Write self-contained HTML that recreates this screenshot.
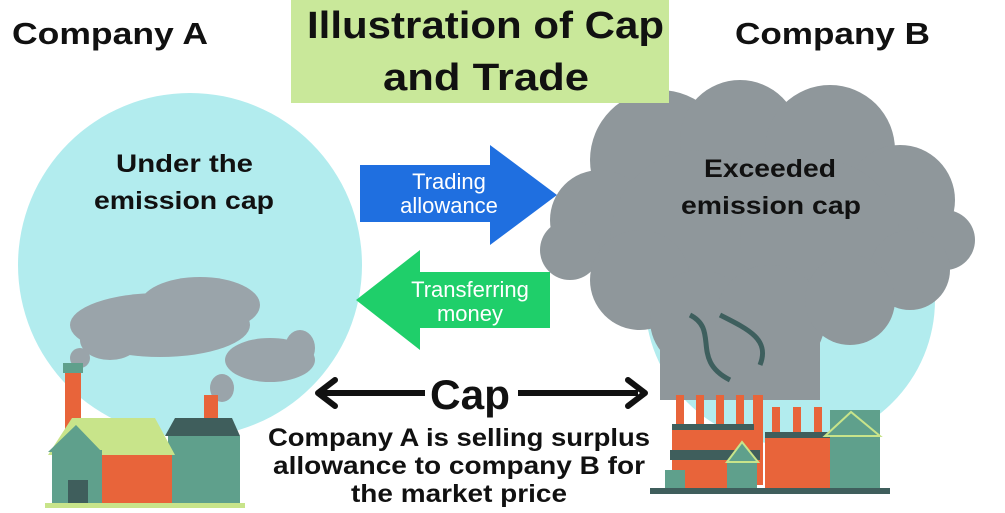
<!DOCTYPE html>
<html><head><style>
body{margin:0;background:#fff;}
svg text{font-family:"Liberation Sans",sans-serif;font-weight:bold;}
</style></head><body>
<svg width="1005" height="508" viewBox="0 0 1005 508" xmlns="http://www.w3.org/2000/svg">
<circle cx="190" cy="265" r="172" fill="#b2ecee"/>
<circle cx="790" cy="300" r="145" fill="#b2ecee"/>
<g fill="#8f979b">
<circle cx="660" cy="160" r="70"/>
<circle cx="740" cy="140" r="60"/>
<circle cx="830" cy="150" r="65"/>
<circle cx="900" cy="200" r="55"/>
<circle cx="945" cy="240" r="30"/>
<circle cx="600" cy="220" r="50"/>
<circle cx="570" cy="250" r="30"/>
<circle cx="700" cy="240" r="90"/>
<circle cx="820" cy="240" r="80"/>
<circle cx="910" cy="270" r="40"/>
<circle cx="640" cy="280" r="50"/>
<circle cx="700" cy="320" r="50"/>
<circle cx="770" cy="320" r="55"/>
<circle cx="850" cy="300" r="45"/>
<rect x="660" y="330" width="160" height="70"/>
</g>
<path d="M690 315 C720 330 690 360 730 380 M720 315 C750 330 770 340 760 365" stroke="#3e5f5e" stroke-width="5" fill="none"/>
<g fill="#9aa4aa">
<ellipse cx="160" cy="325" rx="90" ry="32"/>
<ellipse cx="200" cy="305" rx="60" ry="28"/>
<ellipse cx="110" cy="340" rx="30" ry="20"/>
<ellipse cx="80" cy="358" rx="10" ry="10"/>
<ellipse cx="270" cy="360" rx="45" ry="22"/>
<ellipse cx="300" cy="348" rx="15" ry="18"/>
<ellipse cx="222" cy="388" rx="12" ry="14"/>
</g>
<rect x="63" y="363" width="20" height="10" fill="#5fa08c"/>
<rect x="65" y="373" width="16" height="75" fill="#e8643a"/>
<rect x="204" y="395" width="14" height="45" fill="#e8643a"/>
<rect x="168" y="436" width="72" height="70" fill="#5fa08c"/>
<polygon points="165,436 240,436 232,418 175,418" fill="#3f5e5c"/>
<polygon points="72,418 155,418 175,455 48,455" fill="#c8e48a"/>
<rect x="52" y="450" width="50" height="55" fill="#5fa08c"/>
<polygon points="48,452 76,425 102,452" fill="#5fa08c"/>
<rect x="102" y="455" width="70" height="51" fill="#e8643a"/>
<rect x="68" y="480" width="20" height="26" fill="#3f5e5c"/>
<rect x="45" y="503" width="200" height="5" fill="#c8e48a"/>
<g fill="#e8643a">
<rect x="676" y="395" width="8" height="30"/><rect x="696" y="395" width="8" height="30"/>
<rect x="716" y="395" width="8" height="30"/><rect x="736" y="395" width="8" height="30"/>
<rect x="772" y="407" width="8" height="25"/><rect x="793" y="407" width="8" height="25"/><rect x="814" y="407" width="8" height="25"/>
<rect x="753" y="395" width="10" height="90"/>
<rect x="672" y="428" width="82" height="60"/>
<rect x="765" y="432" width="70" height="56"/>
</g>
<rect x="672" y="424" width="82" height="6" fill="#3f5e5c"/>
<rect x="765" y="432" width="70" height="6" fill="#3f5e5c"/>
<rect x="670" y="450" width="90" height="10" fill="#3f5e5c"/>
<rect x="830" y="410" width="50" height="80" fill="#5fa08c"/>
<polygon points="825,436 851,412 880,436" fill="#5fa08c" stroke="#c8e48a" stroke-width="2"/>
<rect x="727" y="460" width="30" height="30" fill="#5fa08c"/>
<polygon points="727,462 742,442 758,462" fill="#5fa08c" stroke="#c8e48a" stroke-width="2"/>
<rect x="665" y="470" width="20" height="20" fill="#5fa08c"/>
<rect x="650" y="488" width="240" height="6" fill="#3f5e5c"/>
<rect x="291" y="0" width="378" height="103" fill="#c9e89a"/>
<text x="307" y="38" font-size="38" textLength="357" lengthAdjust="spacingAndGlyphs" fill="#111">Illustration of Cap</text>
<text x="383" y="90" font-size="38" textLength="206" lengthAdjust="spacingAndGlyphs" fill="#111">and Trade</text>
<text x="12" y="44" font-size="31" textLength="196" lengthAdjust="spacingAndGlyphs" fill="#111">Company A</text>
<text x="735" y="44" font-size="31" textLength="195" lengthAdjust="spacingAndGlyphs" fill="#111">Company B</text>
<text x="116" y="172" font-size="25" textLength="137" lengthAdjust="spacingAndGlyphs" fill="#111">Under the</text>
<text x="94" y="209" font-size="25" textLength="180" lengthAdjust="spacingAndGlyphs" fill="#111">emission cap</text>
<text x="704" y="177" font-size="25" textLength="132" lengthAdjust="spacingAndGlyphs" fill="#111">Exceeded</text>
<text x="681" y="214" font-size="25" textLength="180" lengthAdjust="spacingAndGlyphs" fill="#111">emission cap</text>
<polygon points="360,165 490,165 490,145 557,195 490,245 490,222 360,222" fill="#1f6fe0"/>
<text x="449" y="189" font-size="22" text-anchor="middle" fill="#fff" style="font-weight:normal">Trading</text>
<text x="449" y="213" font-size="22" text-anchor="middle" fill="#fff" style="font-weight:normal">allowance</text>
<polygon points="550,272 420,272 420,250 356,300 420,350 420,328 550,328" fill="#1fcf6a"/>
<text x="470" y="297" font-size="22" text-anchor="middle" fill="#fff" style="font-weight:normal">Transferring</text>
<text x="470" y="321" font-size="22" text-anchor="middle" fill="#fff" style="font-weight:normal">money</text>
<line x1="322" y1="393" x2="425" y2="393" stroke="#111" stroke-width="6"/>
<line x1="518" y1="393" x2="638" y2="393" stroke="#111" stroke-width="6"/>
<polyline points="335,380 318,393 335,406" fill="none" stroke="#111" stroke-width="6" stroke-linejoin="round" stroke-linecap="round"/>
<polyline points="628,380 645,393 628,406" fill="none" stroke="#111" stroke-width="6" stroke-linejoin="round" stroke-linecap="round"/>
<text x="430" y="409" font-size="42" textLength="80" lengthAdjust="spacingAndGlyphs" fill="#111">Cap</text>
<text x="268" y="446" font-size="25" textLength="382" lengthAdjust="spacingAndGlyphs" fill="#111">Company A is selling surplus</text>
<text x="273" y="474" font-size="25" textLength="372" lengthAdjust="spacingAndGlyphs" fill="#111">allowance to company B for</text>
<text x="351" y="502" font-size="25" textLength="216" lengthAdjust="spacingAndGlyphs" fill="#111">the market price</text>
</svg>
</body></html>
